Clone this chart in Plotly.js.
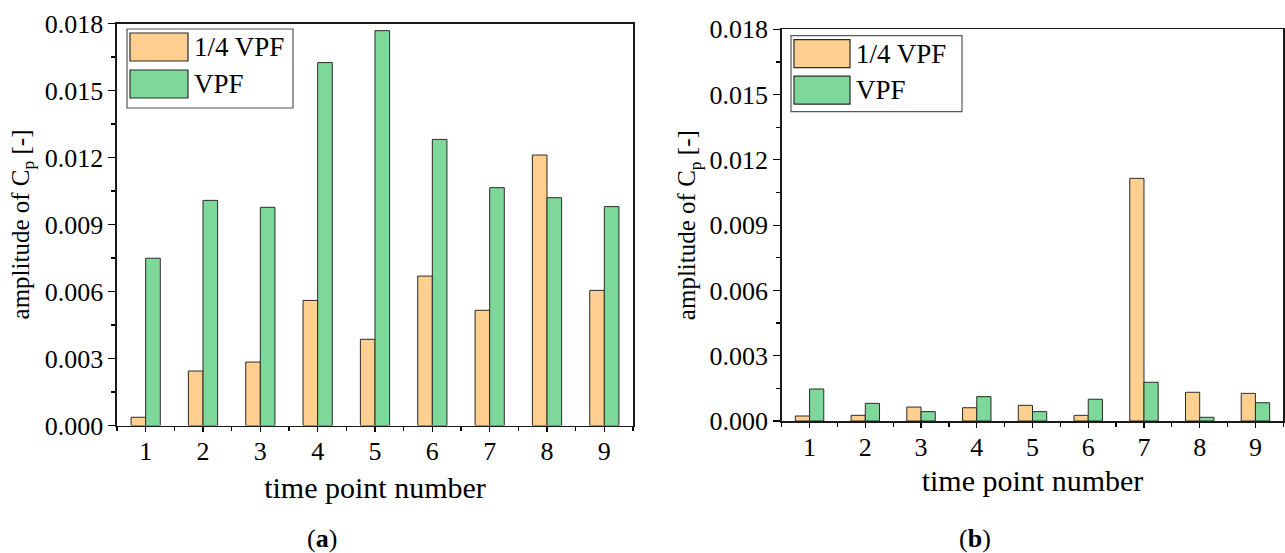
<!DOCTYPE html>
<html>
<head>
<meta charset="utf-8">
<script src="https://cdn.plot.ly/plotly-3.0.1.min.js"></script>
<style>
  html, body { margin: 0; padding: 0; background: #fff; }
  #chart { width: 1285px; height: 553px; }
</style>
</head>
<body>
<div id="chart"></div>
<script>
// Time points on the x axis
const timePoints = [1, 2, 3, 4, 5, 6, 7, 8, 9];
const seriesNames = ['1/4 VPF', 'VPF'];

// Panel (a): amplitude of Cp
const quarterVpfA = [0.00037, 0.00244, 0.00284, 0.00560, 0.00386, 0.00669, 0.00516, 0.01211, 0.00605];
const fullVpfA    = [0.00749, 0.01008, 0.00977, 0.01625, 0.01768, 0.01281, 0.01065, 0.01020, 0.00980];

// Panel (b): amplitude of Cp
const quarterVpfB = [0.00023, 0.00026, 0.00064, 0.00061, 0.00072, 0.00026, 0.01115, 0.00132, 0.00127];
const fullVpfB    = [0.00147, 0.00081, 0.00043, 0.00112, 0.00043, 0.00100, 0.00178, 0.00017, 0.00084];

const panelLabels = ['a', 'b'];
const xTitle = 'time point number';
const yTitle = 'amplitude of C<sub>p</sub> [-]';

const W = 1285, H = 553;
const FONT = 'Liberation Serif';
const ORANGE = '#FFCF8F';
const GREEN = '#7DD899';
const EDGE = '#2b2b2b';

// pixel -> paper helpers
const px = v => v / W;
const py = v => 1 - v / H;

function barTrace(y, name, color, xa, ya) {
  return {
    type: 'bar', x: timePoints, y: y, name: name,
    xaxis: xa, yaxis: ya, showlegend: false,
    marker: { color: color, line: { color: EDGE, width: 1 } },
    hoverinfo: 'x+y'
  };
}

const data = [
  barTrace(quarterVpfA, seriesNames[0], ORANGE, 'x', 'y'),
  barTrace(fullVpfA, seriesNames[1], GREEN, 'x', 'y'),
  barTrace(quarterVpfB, seriesNames[0], ORANGE, 'x2', 'y2'),
  barTrace(fullVpfB, seriesNames[1], GREEN, 'x2', 'y2')
];

function xAxis(domain, anchor, standoff) {
  return {
    domain: domain, anchor: anchor, range: [0.5, 9.5],
    tickmode: 'linear', tick0: 1, dtick: 1,
    ticks: 'outside', ticklen: 5, tickwidth: 1.2, tickcolor: '#000',
    ticklabelstandoff: -3,
    minor: { dtick: 0.5, tick0: 0.5, ticks: 'outside', ticklen: 4, tickwidth: 1.2, tickcolor: '#000' },
    showline: true, linecolor: '#1a1a1a', linewidth: 1.6, mirror: true,
    showgrid: false, zeroline: false, automargin: false,
    tickfont: { family: FONT, size: 26, color: '#000' },
    title: { text: xTitle, font: { family: FONT, size: 30, color: '#000' }, standoff: standoff },
    fixedrange: true
  };
}

function yAxis(domain, anchor, standoff) {
  return {
    domain: domain, anchor: anchor, range: [0, 0.018],
    tickmode: 'linear', tick0: 0, dtick: 0.003, tickformat: '.3f',
    ticks: 'outside', ticklen: 7, tickwidth: 1.2, tickcolor: '#000',
    minor: { dtick: 0.0015, ticks: 'outside', ticklen: 4, tickwidth: 1.2, tickcolor: '#000' },
    showline: true, linecolor: '#1a1a1a', linewidth: 1.6, mirror: true,
    showgrid: false, zeroline: false, automargin: false,
    tickfont: { family: FONT, size: 26, color: '#000' },
    title: { text: yTitle, font: { family: FONT, size: 25, color: '#000' }, standoff: standoff },
    fixedrange: true
  };
}

// Plot-area boxes in pixels: [left, right, top, bottom]
const boxA = [117, 633, 23.5, 425.5];
const boxB = [781.7, 1283.3, 29.3, 421];

// Legend boxes drawn by hand, in pixels
function legend(x0, y0, x1, y1, swW, swH, gap) {
  const shapes = [], ann = [];
  shapes.push({ type: 'rect', xref: 'paper', yref: 'paper',
    x0: px(x0), x1: px(x1), y0: py(y1), y1: py(y0),
    line: { color: '#555', width: 1.2 }, fillcolor: 'rgba(255,255,255,0)' });
  const colors = [ORANGE, GREEN];
  for (let i = 0; i < 2; i++) {
    const sx0 = x0 + 3, sy0 = y0 + 4 + i * (swH + gap);
    shapes.push({ type: 'rect', xref: 'paper', yref: 'paper',
      x0: px(sx0), x1: px(sx0 + swW), y0: py(sy0 + swH), y1: py(sy0),
      line: { color: EDGE, width: 1.2 }, fillcolor: colors[i] });
    ann.push({ xref: 'paper', yref: 'paper', x: px(sx0 + swW + 4), y: py(sy0 + swH / 2),
      xanchor: 'left', yanchor: 'middle', showarrow: false, text: seriesNames[i],
      font: { family: FONT, size: 27, color: '#000' } });
  }
  return { shapes, ann };
}

const legA = legend(127, 29, 293, 108, 58, 28, 9);
const legB = legend(791, 35.7, 962, 111.7, 56, 28, 8.5);

const captions = [
  { x: px(322), y: py(538), text: '(<b>' + panelLabels[0] + '</b>)' },
  { x: px(975), y: py(538), text: '(<b>' + panelLabels[1] + '</b>)' }
].map(c => ({ xref: 'paper', yref: 'paper', x: c.x, y: c.y, xanchor: 'center', yanchor: 'middle',
  showarrow: false, text: c.text, font: { family: FONT, size: 26, color: '#000' } }));

const layout = {
  width: W, height: H,
  margin: { l: 0, r: 0, t: 0, b: 0, pad: 0 },
  paper_bgcolor: '#fff', plot_bgcolor: '#fff',
  barmode: 'group', bargap: 0.49, bargroupgap: 0,
  showlegend: false,
  xaxis: xAxis([px(boxA[0]), px(boxA[1])], 'y', 12),
  yaxis: yAxis([py(boxA[3]), py(boxA[2])], 'x', 8),
  xaxis2: xAxis([px(boxB[0]), px(boxB[1])], 'y2', 9),
  yaxis2: yAxis([py(boxB[3]), py(boxB[2])], 'x2', 6),
  shapes: legA.shapes.concat(legB.shapes),
  annotations: legA.ann.concat(legB.ann, captions)
};

Plotly.newPlot('chart', data, layout, { staticPlot: true, displayModeBar: false });
</script>
</body>
</html>
